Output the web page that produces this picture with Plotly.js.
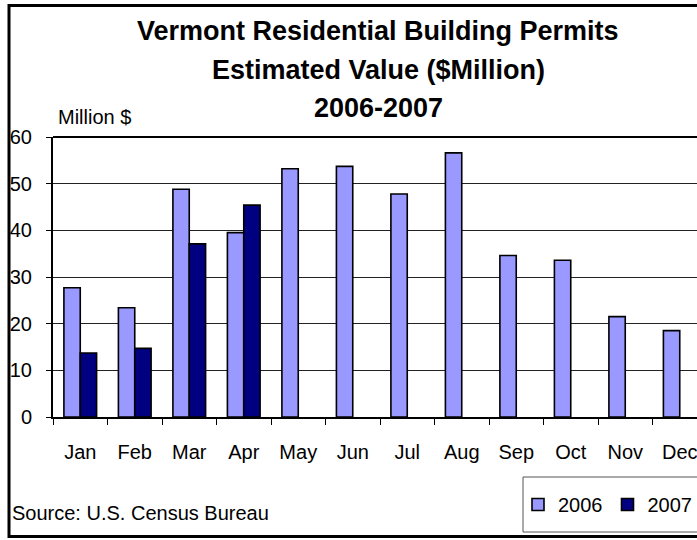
<!DOCTYPE html>
<html>
<head>
<meta charset="utf-8">
<script src="https://cdn.plot.ly/plotly-3.0.1.min.js"></script>
<style>html,body{margin:0;padding:0;background:#fff;}#chart{width:697px;height:540px;}</style>
</head>
<body>
<div id="chart"></div>
<script>
const months = ["Jan","Feb","Mar","Apr","May","Jun","Jul","Aug","Sep","Oct","Nov","Dec"];
const months2007 = ["Jan","Feb","Mar","Apr"];
const values2006 = [27.7, 23.4, 48.8, 39.5, 53.2, 53.7, 47.8, 56.6, 34.6, 33.6, 21.5, 18.5];
const values2007 = [13.7, 14.7, 37.1, 45.4];
const yTicks = [0, 10, 20, 30, 40, 50, 60];

const W = 697, H = 540;
const ML = 53, MR = 0, MT = 137, MB = 123;
const PW = W - ML - MR, PH = H - MT - MB;
const px = x => (x - ML) / PW;
const py = y => (H - MB - y) / PH;
const FONT = "Liberation Sans, Arial, sans-serif";

const traces = [
  {type:"bar", name:"2006", x:months, y:values2006,
   marker:{color:"#9999FF", line:{color:"#000", width:1.6}}},
  {type:"bar", name:"2007", x:months2007, y:values2007,
   marker:{color:"#000080", line:{color:"#000", width:1.6}}}
];

const layout = {
  width: W, height: H,
  margin: {l: ML, r: MR, t: MT, b: MB, pad: 0, autoexpand: false},
  paper_bgcolor: "#fff", plot_bgcolor: "#fff",
  barmode: "group", bargap: 0.4, bargroupgap: 0,
  font: {family: FONT, size: 20, color: "#000"},
  showlegend: true,
  legend: {orientation: "h", x: px(518), xanchor: "left", y: py(485), yanchor: "top",
           bgcolor: "rgba(0,0,0,0)", borderwidth: 0, font: {family: FONT, size: 20, color: "#000"},
           traceorder: "normal", itemwidth: 30},
  xaxis: {type: "category", categoryorder: "array", categoryarray: months,
          range: [-0.5, -0.5 + PW / 54.5], fixedrange: true, automargin: false,
          showline: true, linecolor: "#000", linewidth: 1.5, mirror: false,
          ticks: "outside", tickson: "boundaries", ticklen: 6, tickcolor: "#000", tickwidth: 1,
          showgrid: false, ticklabelstandoff: 16,
          tickfont: {family: FONT, size: 20, color: "#000"}},
  yaxis: {range: [0, 60], tickvals: yTicks, ticktext: yTicks.map(String), automargin: false,
          showline: true, linecolor: "#000", linewidth: 2,
          ticks: "outside", ticklen: 5, tickcolor: "#000", tickwidth: 1,
          showgrid: true, gridcolor: "#222", gridwidth: 1,
          zeroline: false, ticklabelstandoff: 10,
          tickfont: {family: FONT, size: 20, color: "#000"}},
  shapes: [
    {type: "line", xref: "paper", yref: "paper", x0: 0, x1: 1.01, y0: 1, y1: 1,
     line: {color: "#000", width: 2}},
    {type: "rect", xref: "paper", yref: "paper", x0: px(523), x1: px(720), y0: py(477), y1: py(532),
     line: {color: "#555", width: 1}, fillcolor: "rgba(0,0,0,0)"},
    {type: "rect", xref: "paper", yref: "paper", x0: px(9), x1: px(740), y0: py(5.5), y1: py(536.5),
     line: {color: "#000", width: 3}, fillcolor: "rgba(0,0,0,0)"}
  ],
  annotations: [
    {text: "<b>Vermont Residential Building Permits</b>", xref: "paper", yref: "paper",
     x: px(378), y: py(31), xanchor: "center", yanchor: "middle", showarrow: false,
     font: {family: FONT, size: 27, color: "#000"}},
    {text: "<b>Estimated Value ($Million)</b>", xref: "paper", yref: "paper",
     x: px(378), y: py(70), xanchor: "center", yanchor: "middle", showarrow: false,
     font: {family: FONT, size: 27, color: "#000"}},
    {text: "<b>2006-2007</b>", xref: "paper", yref: "paper",
     x: px(378), y: py(108), xanchor: "center", yanchor: "middle", showarrow: false,
     font: {family: FONT, size: 27, color: "#000"}},
    {text: "Million $", xref: "paper", yref: "paper",
     x: px(56), y: py(117), xanchor: "left", yanchor: "middle", showarrow: false,
     font: {family: FONT, size: 20, color: "#000"}},
    {text: "Source: U.S. Census Bureau", xref: "paper", yref: "paper",
     x: px(10), y: py(513), xanchor: "left", yanchor: "middle", showarrow: false,
     font: {family: FONT, size: 20, color: "#000"}}
  ]
};

Plotly.newPlot("chart", traces, layout, {displayModeBar: false, staticPlot: true});
</script>
</body>
</html>
